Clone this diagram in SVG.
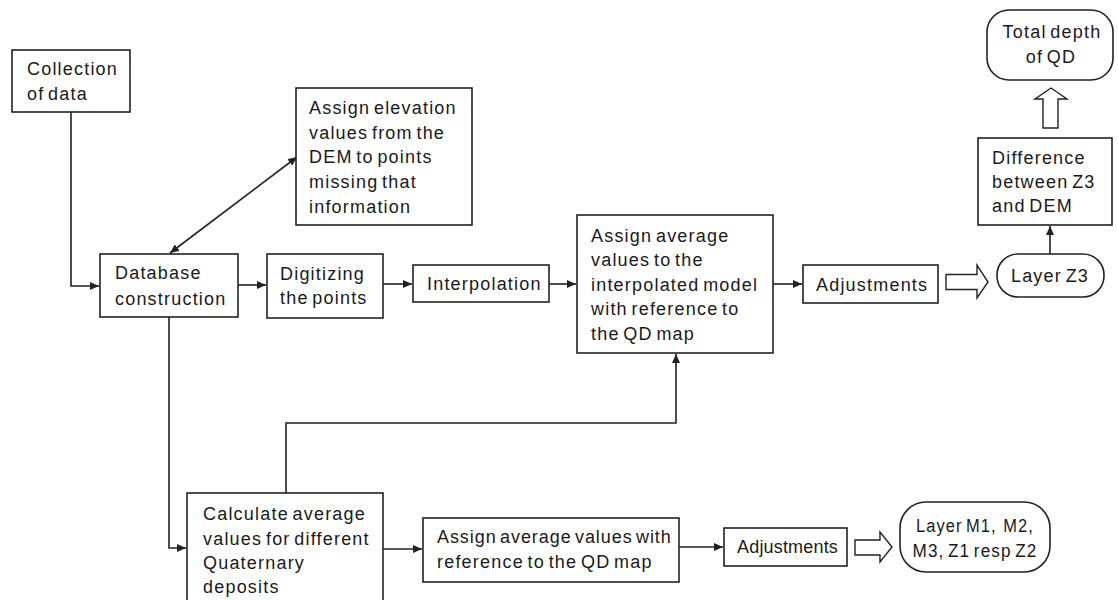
<svg xmlns="http://www.w3.org/2000/svg" width="1118" height="600" viewBox="0 0 1118 600">
<style>
.box{fill:#fff;stroke:#222;stroke-width:1.6}
.ln{fill:none;stroke:#222;stroke-width:1.6}
.hol{fill:#fff;stroke:#222;stroke-width:1.4;stroke-linejoin:miter}
text{font-family:"Liberation Sans",Arial,sans-serif;font-size:18px;fill:#1a1a1a;letter-spacing:1.2px;word-spacing:-2.5px}
.c{text-anchor:middle}
</style>
<defs>
<marker id="ah" markerUnits="userSpaceOnUse" markerWidth="9" markerHeight="8" refX="9" refY="4" orient="auto-start-reverse"><path d="M0,0 L9,4 L0,8 z" fill="#222"/></marker>
</defs>
<rect width="1118" height="600" fill="#fff"/>
<g id="connectors">
<polyline class="ln" points="71,112 71,286 99,286" marker-end="url(#ah)"/>
<line class="ln" x1="170" y1="253" x2="297" y2="157" marker-start="url(#ah)" marker-end="url(#ah)"/>
<line class="ln" x1="238" y1="285" x2="266" y2="285" marker-end="url(#ah)"/>
<line class="ln" x1="383" y1="284" x2="412" y2="284" marker-end="url(#ah)"/>
<line class="ln" x1="549" y1="284" x2="576" y2="284" marker-end="url(#ah)"/>
<line class="ln" x1="773" y1="284" x2="802" y2="284" marker-end="url(#ah)"/>
<polygon class="hol" points="946,274.5 977,274.5 977,265 988,282 977,298 977,289.5 946,289.5"/>
<line class="ln" x1="1050" y1="254" x2="1050" y2="226" marker-end="url(#ah)"/>
<polygon class="hol" points="1043,128 1043,99 1035,99 1051,88 1067,99 1058,99 1058,128"/>
<polyline class="ln" points="169,317 169,548 186,548" marker-end="url(#ah)"/>
<polyline class="ln" points="286,493 286,423 676,423 676,354" marker-end="url(#ah)"/>
<line class="ln" x1="383" y1="549" x2="422" y2="549" stroke-width="2.4" marker-end="url(#ah)"/>
<line class="ln" x1="679" y1="547" x2="723" y2="547" marker-end="url(#ah)"/>
<polygon class="hol" points="855,540 880,540 880,532 892,547 880,562 880,555 855,555"/>
</g>
<g id="collection">
<rect class="box" x="12" y="50" width="118" height="62"/>
<text x="27" y="75">Collection</text>
<text x="27" y="100">of data</text>
</g>
<g id="assign-elevation">
<rect class="box" x="296" y="88" width="176" height="137"/>
<text x="309" y="114">Assign elevation</text>
<text x="309" y="139">values from the</text>
<text x="309" y="163">DEM to points</text>
<text x="309" y="188">missing that</text>
<text x="309" y="213">information</text>
</g>
<g id="database">
<rect class="box" x="100" y="254" width="138" height="63"/>
<text x="115" y="279">Database</text>
<text x="115" y="305">construction</text>
</g>
<g id="digitizing">
<rect class="box" x="267" y="254" width="116" height="64"/>
<text x="280" y="280">Digitizing</text>
<text x="280" y="304">the points</text>
</g>
<g id="interpolation">
<rect class="box" x="413" y="265" width="136" height="37"/>
<text x="427" y="290">Interpolation</text>
</g>
<g id="assign-average">
<rect class="box" x="577" y="215" width="196" height="138"/>
<text x="591" y="242">Assign average</text>
<text x="591" y="266">values to the</text>
<text x="591" y="291">interpolated model</text>
<text x="591" y="315">with reference to</text>
<text x="591" y="340">the QD map</text>
</g>
<g id="adjustments-top">
<rect class="box" x="803" y="265" width="135" height="38"/>
<text x="816" y="291">Adjustments</text>
</g>
<g id="layer-z3">
<rect class="box" x="997" y="254" width="107" height="43" rx="21" ry="21"/>
<text class="c" x="1050" y="282">Layer Z3</text>
</g>
<g id="difference">
<rect class="box" x="978" y="138" width="134" height="87"/>
<text x="992" y="164">Difference</text>
<text x="992" y="188">between Z3</text>
<text x="992" y="212">and DEM</text>
</g>
<g id="total-depth">
<rect class="box" x="987" y="10" width="126" height="70" rx="22" ry="22"/>
<text class="c" x="1052" y="38">Total depth</text>
<text class="c" x="1051" y="63">of QD</text>
</g>
<g id="calculate">
<rect class="box" x="187" y="493" width="196" height="120"/>
<text x="203" y="520">Calculate average</text>
<text x="203" y="545">values for different</text>
<text x="203" y="569">Quaternary</text>
<text x="203" y="593">deposits</text>
</g>
<g id="assign-values-with">
<rect class="box" x="423" y="518" width="256" height="64"/>
<text x="437" y="543" textLength="235" lengthAdjust="spacing">Assign average values with</text>
<text x="437" y="568">reference to the QD map</text>
</g>
<g id="adjustments-bottom">
<rect class="box" x="724" y="528" width="123" height="38"/>
<text x="737" y="553" textLength="102" lengthAdjust="spacing">Adjustments</text>
</g>
<g id="layer-m">
<rect class="box" x="900" y="502" width="150" height="70" rx="26" ry="26"/>
<text class="c" x="975" y="532" textLength="118" lengthAdjust="spacingAndGlyphs" style="white-space:pre">Layer M1,  M2,</text>
<text class="c" x="975" y="557" textLength="125" lengthAdjust="spacingAndGlyphs">M3, Z1 resp Z2</text>
</g>
</svg>
